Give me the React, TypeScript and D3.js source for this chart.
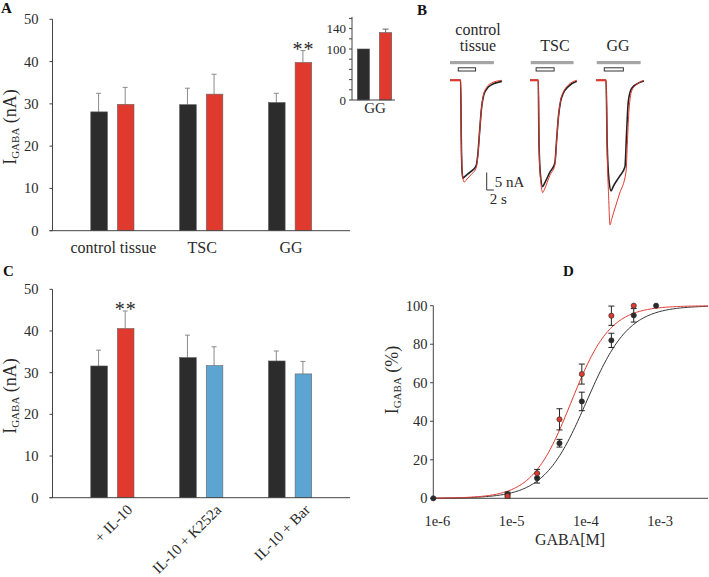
import React from "react";
import * as d3 from "d3";

// ---------- DATA ----------
// Panel A
const catsA = ["control tissue", "TSC", "GG"];
const seriesAB = ["untreated", "IL-10"];
const meanA_black = [28.1, 29.8, 30.3];
const errA_black = [4.4, 3.9, 2.2];
const meanA_red = [29.9, 32.3, 39.8];
const errA_red = [4.0, 4.7, 2.8];
const sigA = ["", "", "**"];
const ticksA = [0, 10, 20, 30, 40, 50];

// Inset (GG, normalised %)
const insetCats = ["untreated", "IL-10"];
const insetMean = [100, 132];
const insetErr = [0, 7];
const insetTicks = [0, 20, 40, 60, 80, 100, 120, 140, 160];
const insetLabels = [0, 100, 140];

// Panel C
const catsC = ["+ IL-10", "IL-10 + K252a", "IL-10 + Bar"];
const meanC_black = [31.6, 33.6, 32.8];
const errC_black = [3.8, 5.4, 2.4];
const meanC_col = [40.6, 31.7, 29.7];
const errC_col = [4.2, 4.5, 3.0];
const colC = ["red", "blue", "blue"];
const sigC = ["**", "", ""];

// Panel B traces: [time (s), current (nA)]
const traceCats = ["control\ntissue", "TSC", "GG"];
const ctrlBlack = [[0,0],[2.95,0],[3.15,-18],[3.35,-26],[3.6,-28.0],[4.0,-27.6],[5.5,-26.3],[7.2,-24.6],[7.7,-21.5],[8.2,-15],[8.7,-8.5],[9.3,-4.5],[10.2,-2.5],[11.5,-1.3],[14.4,-0.3]];
const ctrlRed = [[0,0],[2.95,0],[3.15,-18],[3.45,-27],[3.95,-29.1],[4.4,-28.6],[5.8,-27],[7.2,-25.2],[7.7,-22],[8.2,-15.3],[8.7,-8.5],[9.3,-4.2],[10.2,-2.0],[11.5,-0.8],[14.4,0]];
const tscBlack = [[0,0],[2.3,0],[2.5,-18],[2.9,-27],[3.5,-30.4],[4.0,-29.5],[5.5,-26.3],[6.9,-23.7],[7.4,-17],[7.9,-10.4],[8.5,-6],[9.25,-3.7],[10.6,-1.8],[13,-0.3]];
const tscRed = [[0,0],[2.3,0],[2.5,-18],[2.95,-28.5],[3.55,-32.1],[4.0,-31.2],[5.5,-27.2],[6.9,-24.2],[7.4,-17.3],[7.9,-10.5],[8.5,-5.8],[9.25,-3.4],[10.6,-1.4],[13,0]];
const ggBlack = [[0,0],[2.8,0],[3.1,-18],[3.6,-28.5],[4.2,-31.6],[4.8,-30.3],[6.5,-27.5],[8.05,-24.7],[8.5,-15],[8.97,-6.1],[9.9,-2.3],[12.2,-0.6],[13.3,-0.2]];
const ggRed = [[0,0],[2.8,0],[3.1,-20],[3.5,-33],[3.9,-41.3],[4.4,-39.5],[6.5,-32.5],[8.33,-26.2],[8.75,-17],[9.17,-8.5],[10,-2.8],[12.2,-0.5],[13.3,0]];
// application bars [start, end] (s)
const grayBars = [[0, 12.2], [0.2, 12.1], [0.2, 12.4]];
const openBars = [[2.3, 7.1], [1.7, 6.7], [2.3, 7.6]];
const scaleBarTime = 2;
const scaleBarCurrent = 5;

// Panel D: concentration-response
const concBlack = [1e-6, 1e-5, 2.5e-5, 5e-5, 1e-4, 2.5e-4, 5e-4, 1e-3];
const respBlack = [0, 2.2, 10.4, 28.6, 50.3, 82, 95, 100];
const errBlack = [0, 1, 2.5, 2, 4.8, 3.7, 3.5, 0];
const concRed = [1e-5, 2.5e-5, 5e-5, 1e-4, 2.5e-4, 5e-4];
const respRed = [1.2, 13, 41, 64.5, 94.8, 100];
const errRed = [1, 2, 5.5, 5.2, 5, 0];
const fitBlack = { ec50: 1.15e-4, hill: 1.52 };
const fitRed = { ec50: 7.2e-5, hill: 1.65 };
const ticksDy = [0, 20, 40, 60, 80, 100];
const ticksDx = [1e-6, 1e-5, 1e-4, 1e-3];
const ticksDxLabels = ["1e-6", "1e-5", "1e-4", "1e-3"];

// ---------- STYLE ----------
const FONT = "'Liberation Serif', 'Times New Roman', serif";
const BLACK = "#2c2c2c";
const RED = "#e0392e";
const BLUE = "#5ca4d1";
const AX = "#444";
const TXT = "#2a2a2a";
const ERR = "#8a8a8a";

function YLabel({ x, y, unit }: { x: number; y: number; unit: string }) {
  return (
    <text transform={`translate(${x},${y}) rotate(-90)`} textAnchor="middle" fontSize={18} fill={TXT}>
      I<tspan fontSize={11} dy={3}>GABA</tspan>
      <tspan dy={-3}>{" " + unit}</tspan>
    </text>
  );
}

function BarPanel({ cats, black, blackErr, col, colErr, colors, sig, y0, y1, rotateLabels }: any) {
  const x = d3.scalePoint().domain(cats).range([52.5, 350]).padding(0.674);
  const inner = d3.scaleBand().domain(seriesAB).range([-21.6, 21.6]).paddingInner(0.376);
  const y = d3.scaleLinear().domain([0, 50]).range([y0, y1]);
  const bw = inner.bandwidth();
  const left = 52.5;
  const errBar = (cx: number, v: number, e: number) => (
    <g stroke={ERR} strokeWidth={1}>
      <line x1={cx} x2={cx} y1={y(v)} y2={y(v + e)} />
      <line x1={cx - 2.5} x2={cx + 2.5} y1={y(v + e)} y2={y(v + e)} />
    </g>
  );
  return (
    <g>
      {cats.map((c: string, i: number) => {
        const cx = x(c)!;
        const bx = cx + inner("untreated")!;
        const rx = cx + inner("IL-10")!;
        return (
          <g key={c}>
            {errBar(bx + bw / 2 - 0.5, black[i], blackErr[i])}
            {errBar(rx + bw / 2 - 0.5, col[i], colErr[i])}
            <rect x={bx} y={y(black[i])} width={bw} height={y(0) - y(black[i])} fill={BLACK} stroke="#555" strokeWidth={0.6} />
            <rect x={rx} y={y(col[i])} width={bw} height={y(0) - y(col[i])} fill={colors[i]} stroke="#666" strokeWidth={0.6} />
            {sig[i] && (
              <text x={rx + bw / 2} y={y(col[i] + colErr[i]) + 5} textAnchor="middle" fontSize={20} letterSpacing={1} fill={TXT}>
                {sig[i]}
              </text>
            )}
            {rotateLabels ? (
              <text transform={`translate(${cx + 21},${y0 + 13}) rotate(-45)`} textAnchor="end" fontSize={15} fill={TXT}>
                {c}
              </text>
            ) : (
              <text x={cx + 1} y={y0 + 22} textAnchor="middle" fontSize={16} fill={TXT}>
                {c}
              </text>
            )}
          </g>
        );
      })}
      <line x1={left} x2={left} y1={y(0)} y2={y(50)} stroke={AX} />
      <line x1={left - 3} x2={350} y1={y(0)} y2={y(0)} stroke={AX} />
      {ticksA.map((t) => (
        <g key={t}>
          <line x1={left - 3} x2={left} y1={y(t)} y2={y(t)} stroke={AX} />
          <text x={38.5} y={y(t) + 5} textAnchor="end" fontSize={14.5} fill={TXT}>
            {t}
          </text>
        </g>
      ))}
    </g>
  );
}

function Inset() {
  const x = d3.scaleBand().domain(insetCats).range([354, 395]).paddingInner(0.45).paddingOuter(0.15);
  const y = d3.scaleLinear().domain([0, 160]).range([100, 18.4]);
  const left = 352;
  return (
    <g>
      {insetCats.map((c, i) => (
        <g key={c}>
          {insetErr[i] > 0 && (
            <g stroke="#666">
              <line x1={x(c)! + x.bandwidth() / 2} x2={x(c)! + x.bandwidth() / 2} y1={y(insetMean[i])} y2={y(insetMean[i] + insetErr[i])} />
              <line x1={x(c)! + x.bandwidth() / 2 - 3} x2={x(c)! + x.bandwidth() / 2 + 3} y1={y(insetMean[i] + insetErr[i])} y2={y(insetMean[i] + insetErr[i])} />
            </g>
          )}
          <rect x={x(c)} y={y(insetMean[i])} width={x.bandwidth()} height={y(0) - y(insetMean[i])} fill={i === 0 ? BLACK : RED} stroke="#555" strokeWidth={0.6} />
        </g>
      ))}
      <line x1={left} x2={left} y1={y(0)} y2={y(160) - 1.5} stroke={AX} />
      <line x1={left} x2={395} y1={y(0)} y2={y(0)} stroke={AX} />
      {insetTicks.map((t) => (
        <line key={t} x1={left - 3} x2={left} y1={y(t)} y2={y(t)} stroke={AX} />
      ))}
      {insetLabels.map((t) => (
        <text key={t} x={346} y={y(t) + 4.5} textAnchor="end" fontSize={13} fill={TXT}>
          {t}
        </text>
      ))}
      <text x={375} y={113} textAnchor="middle" fontSize={15} fill={TXT}>GG</text>
    </g>
  );
}

function Traces() {
  const origins = [450, 530, 596];
  const labelX = [478, 555, 618];
  const pxPerS = 3.6;
  const baseY = 80.3;
  const y = d3.scaleLinear().domain([0, -45]).range([baseY, baseY + 45 * 3.5]);
  const sets = [
    [ctrlBlack, ctrlRed],
    [tscBlack, tscRed],
    [ggBlack, ggRed],
  ];
  return (
    <g>
      {traceCats.map((c, i) => {
        const x = d3.scaleLinear().domain([0, 1]).range([origins[i], origins[i] + pxPerS]);
        const line = d3.line<number[]>().x((d) => x(d[0])).y((d) => y(d[1])).curve(d3.curveMonotoneX);
        const lines = c.split("\n");
        return (
          <g key={c}>
            {lines.map((l, j) => (
              <text key={l} x={labelX[i]} y={lines.length === 2 ? 35 + j * 16 : 51} textAnchor="middle" fontSize={16} fill={TXT}>
                {l}
              </text>
            ))}
            <rect x={x(grayBars[i][0])} y={61} width={x(grayBars[i][1]) - x(grayBars[i][0])} height={3.2} fill="#a5a5a5" />
            <rect x={x(openBars[i][0])} y={67.8} width={x(openBars[i][1]) - x(openBars[i][0])} height={3.2} fill="white" stroke="#333" strokeWidth={1} />
            <path d={line(sets[i][0] as number[][])!} fill="none" stroke="#222" strokeWidth={1.6} />
            <path d={line(sets[i][1] as number[][])!} fill="none" stroke={RED} strokeWidth={1} />
            <path d={line((sets[i][1] as number[][]).slice(0, 2))!} fill="none" stroke={RED} strokeWidth={2} />
          </g>
        );
      })}
      {(() => {
        const sx = 486.7;
        const sy = 190;
        const xs = d3.scaleLinear().domain([0, 1]).range([0, pxPerS]);
        const ys = d3.scaleLinear().domain([0, 1]).range([0, 3.5]);
        return (
          <g>
            <path d={`M${sx},${sy - ys(scaleBarCurrent)}V${sy}H${sx + xs(scaleBarTime)}`} fill="none" stroke="#333" strokeWidth={1} />
            <text x={sx + 8} y={sy - 3.5} fontSize={15} fill={TXT}>5 nA</text>
            <text x={sx + 3} y={sy + 14} fontSize={15} fill={TXT}>2 s</text>
          </g>
        );
      })()}
    </g>
  );
}

function DosePanel() {
  const x = d3.scaleLog().domain([1e-6, 5e-3]).range([433.3, 708]);
  const y = d3.scaleLinear().domain([0, 100]).range([498.3, 305.7]);
  const hill = (c: number, f: { ec50: number; hill: number }) => 100 / (1 + Math.pow(f.ec50 / c, f.hill));
  const grid = d3.range(0, 201).map((i) => Math.pow(10, -6 + (i / 200) * Math.log10(5e3)));
  const line = d3.line<number>().x((c) => x(c)).y((c) => y(hill(c, fitBlack)));
  const lineR = d3.line<number>().x((c) => x(c)).y((c) => y(hill(c, fitRed)));
  const pts = (conc: number[], resp: number[], err: number[], fill: string) =>
    conc.map((c, i) => (
      <g key={c}>
        {err[i] > 0 && (
          <g stroke="#222" strokeWidth={1}>
            <line x1={x(c)} x2={x(c)} y1={y(resp[i] - err[i])} y2={y(resp[i] + err[i])} />
            <line x1={x(c) - 3} x2={x(c) + 3} y1={y(resp[i] - err[i])} y2={y(resp[i] - err[i])} />
            <line x1={x(c) - 3} x2={x(c) + 3} y1={y(resp[i] + err[i])} y2={y(resp[i] + err[i])} />
          </g>
        )}
        <circle cx={x(c)} cy={y(resp[i])} r={2.6} fill={fill} stroke="#333" strokeWidth={0.7} />
      </g>
    ));
  return (
    <g>
      <line x1={433.3} x2={433.3} y1={y(0)} y2={y(100)} stroke={AX} />
      <line x1={433.3} x2={708} y1={y(0)} y2={y(0)} stroke={AX} />
      {ticksDy.map((t) => (
        <g key={t}>
          <line x1={430} x2={433.3} y1={y(t)} y2={y(t)} stroke={AX} />
          <text x={427.5} y={y(t) + 5} textAnchor="end" fontSize={14.5} fill={TXT}>
            {t}
          </text>
        </g>
      ))}
      {ticksDx.map((t, i) => (
        <text key={t} x={x(t) + 4} y={526} textAnchor="middle" fontSize={14.5} fill={TXT}>
          {ticksDxLabels[i]}
        </text>
      ))}
      <text x={570} y={545} textAnchor="middle" fontSize={16} fill={TXT}>GABA[M]</text>
      <YLabel x={398} y={380} unit="(%)" />
      <path d={line(grid)!} fill="none" stroke="#333" strokeWidth={1} />
      <path d={lineR(grid)!} fill="none" stroke={RED} strokeWidth={1} />
      {pts(concBlack, respBlack, errBlack, "#2a2a2a")}
      {pts(concRed, respRed, errRed, RED)}
    </g>
  );
}

export default function App() {
  const colorMap: Record<string, string> = { red: RED, blue: BLUE };
  return (
    <svg width={709} height={577} style={{ position: "absolute", left: 0, top: 0, background: "white" }} fontFamily={FONT}>
      <rect width={709} height={577} fill="white" />
      {/* Panel A */}
      <text x={1} y={13} fontSize={15} fontWeight="bold" fill="#111">A</text>
      <BarPanel cats={catsA} black={meanA_black} blackErr={errA_black} col={meanA_red} colErr={errA_red} colors={catsA.map(() => RED)} sig={sigA} y0={230.7} y1={19.3} rotateLabels={false} />
      <YLabel x={16} y={127} unit="(nA)" />
      <Inset />
      {/* Panel B */}
      <text x={417} y={15} fontSize={15} fontWeight="bold" fill="#111">B</text>
      <Traces />
      {/* Panel C */}
      <text x={3} y={276} fontSize={15} fontWeight="bold" fill="#111">C</text>
      <BarPanel cats={catsC} black={meanC_black} blackErr={errC_black} col={meanC_col} colErr={errC_col} colors={colC.map((c) => colorMap[c])} sig={sigC} y0={497.7} y1={289.3} rotateLabels={true} />
      <YLabel x={16} y={396} unit="(nA)" />
      {/* Panel D */}
      <text x={563} y={276} fontSize={15} fontWeight="bold" fill="#111">D</text>
      <DosePanel />
    </svg>
  );
}
